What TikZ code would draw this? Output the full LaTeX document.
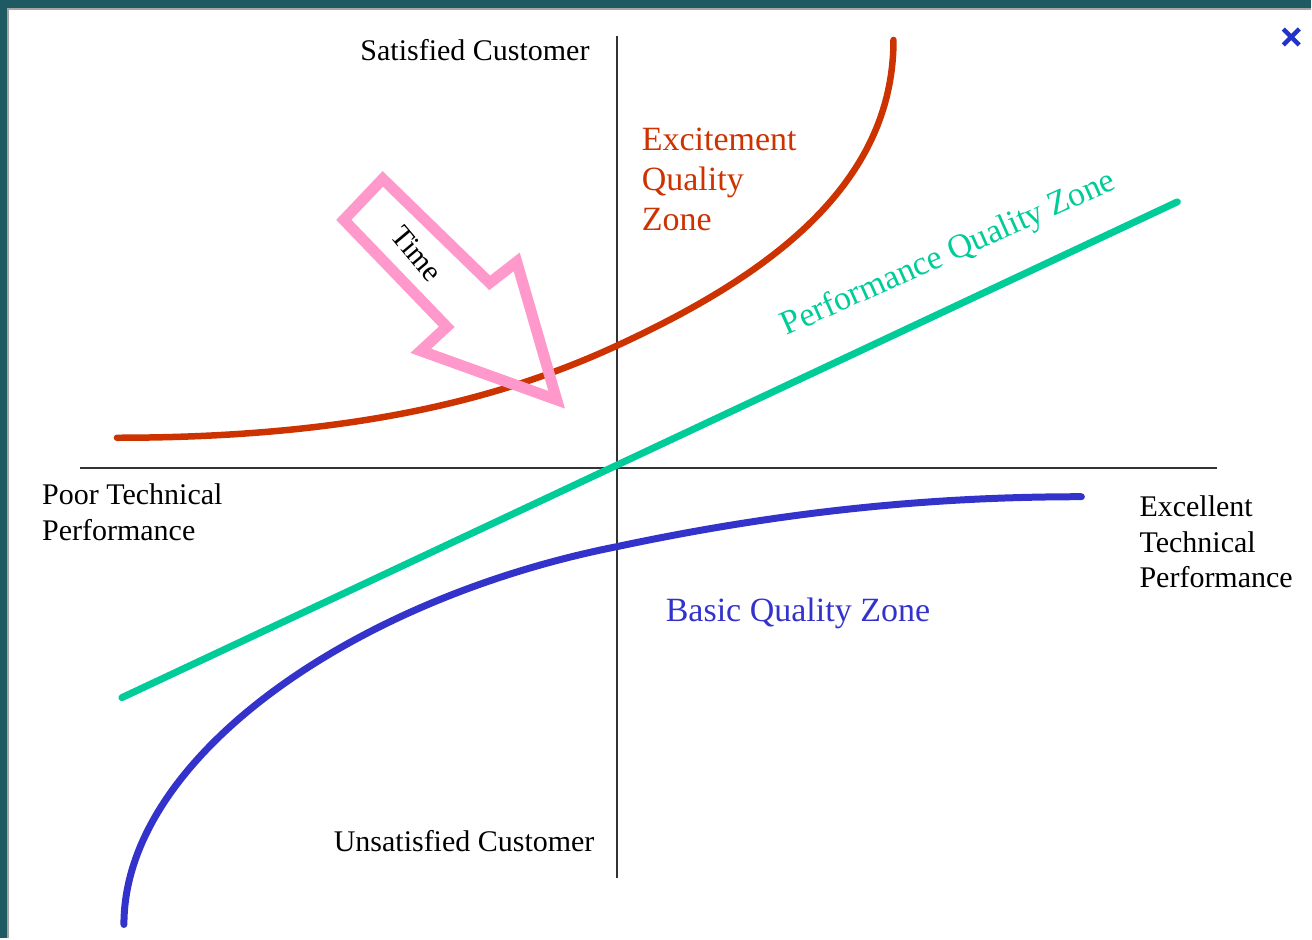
\documentclass[tikz,border=0pt]{standalone}
\usepackage{fontspec}
\setmainfont{Liberation Serif}
\definecolor{frameteal}{HTML}{1F5A62}
\definecolor{excred}{HTML}{CC3300}
\definecolor{perfgreen}{HTML}{00CC99}
\definecolor{basicblue}{HTML}{3333CC}
\definecolor{timepink}{HTML}{FF99CC}
\definecolor{closeblue}{HTML}{2233CC}
\definecolor{axisgrey}{HTML}{333333}
\begin{document}
\begin{tikzpicture}[x=1pt,y=-1pt,
  lbl/.style={font=\fontsize{30}{36}\selectfont, inner sep=0pt, text=black, align=left},
  zonelbl/.style={font=\fontsize{34}{40}\selectfont, inner sep=0pt, align=left},
  axisline/.style={draw=axisgrey, line width=2pt},
  curve/.style={line width=6.5pt, line cap=round}]
% frame
\fill[frameteal] (0,0) rectangle (1312,939);
\fill[white] (8,9) rectangle (1312,939);
\draw[gray!70, line width=1.5pt] (8,939) -- (8,9) -- (1312,9);
\useasboundingbox (0,0) rectangle (1312,939);
% close mark
\coordinate (x1) at (1284,29);
\coordinate (x2) at (1300,45);
\coordinate (x3) at (1284,45);
\coordinate (x4) at (1300,29);
\draw[closeblue, line width=4.5pt] (x1) -- (x2) (x3) -- (x4);
% axes
\coordinate (xl) at (80,468);
\coordinate (xr) at (1218,468);
\coordinate (yt) at (617,36);
\coordinate (yb) at (617,878);
\draw[axisline] (xl) -- (xr);
\draw[axisline] (yt) -- (yb);
% curves
\coordinate (r0) at (117,438);
\coordinate (r1) at (617,346);
\coordinate (r2) at (894,40);
\draw[curve, excred] (r0) .. controls (350,438) and (500,400) .. (r1)
   .. controls (760,280) and (894,190) .. (r2);
\coordinate (g0) at (122,698);
\coordinate (g1) at (1178,202);
\draw[curve, perfgreen, line width=7pt] (g0) -- (g1);
\coordinate (b0) at (124,925);
\coordinate (b1) at (617,547);
\coordinate (b2) at (1082,497);
\draw[curve, basicblue, line width=7pt] (b0) .. controls (124,760) and (350,600) .. (b1)
   .. controls (800,508) and (950,497) .. (b2);
% time arrow
\coordinate (pa) at (383,179);
\coordinate (pb) at (344,220);
\coordinate (pc) at (447,327);
\coordinate (pd) at (421,351);
\coordinate (pe) at (557,400);
\coordinate (pf) at (517,262);
\coordinate (pg) at (490,283);
\draw[timepink, line width=11pt, line join=miter] (pa) -- (pb) -- (pc) -- (pd) -- (pe) -- (pf) -- (pg) -- cycle;
\node[lbl, font=\fontsize{30}{34}\selectfont, rotate=-50] (time) at (417,254) {Time};
% labels
\node[lbl, anchor=base east] (sat) at (590,61) {Satisfied Customer};
\node[lbl, anchor=base east] (unsat) at (595,852) {Unsatisfied Customer};
\node[lbl, anchor=north west, align=left, font=\fontsize{30}{35.5}\selectfont] (poor) at (42,484) {Poor Technical\\Performance};
\node[lbl, anchor=north west, align=left, font=\fontsize{30}{35.5}\selectfont] (exc) at (1140,496) {Excellent\\Technical\\Performance};
\node[zonelbl, text=excred, anchor=north west] (excz) at (642,128) {Excitement\\Quality\\Zone};
\node[zonelbl, text=basicblue, anchor=base west] (basz) at (666,622) {Basic Quality Zone};
\node[zonelbl, text=perfgreen, anchor=base west, rotate=24] (perfz) at (787,336) {Performance Quality Zone};
\end{tikzpicture}
\end{document}
